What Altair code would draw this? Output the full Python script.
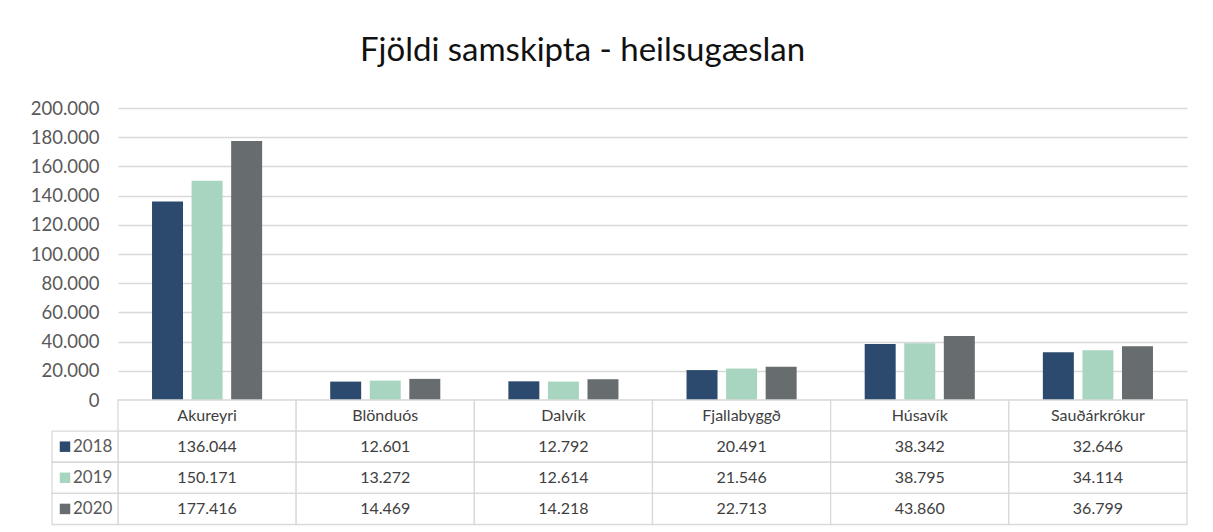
import altair as alt
import pandas as pd

categories = ["Akureyri", "Blönduós", "Dalvík", "Fjallabyggð", "Húsavík", "Sauðárkrókur"]
years = ["2018", "2019", "2020"]
v2018 = [136044, 12601, 12792, 20491, 38342, 32646]
v2019 = [150171, 13272, 12614, 21546, 38795, 34114]
v2020 = [177416, 14469, 14218, 22713, 43860, 36799]
colors = ["#2B4A6E", "#A8D5BF", "#676C6F"]
title_text = "Fjöldi samskipta - heilsugæslan"

series = {"2018": v2018, "2019": v2019, "2020": v2020}


def fmt(v):
    return f"{v:,}".replace(",", ".")


bar_rows = []
for y in years:
    for c, v in zip(categories, series[y]):
        bar_rows.append({"cat": c, "year": y, "value": v})
bars_df = pd.DataFrame(bar_rows)

cell_rows = []
for c in categories:
    cell_rows.append({"cat": c, "row": "h", "label": c})
for y in years:
    for c, v in zip(categories, series[y]):
        cell_rows.append({"cat": c, "row": y, "label": fmt(v)})
cells_df = pd.DataFrame(cell_rows)

legend_df = pd.DataFrame({"col": ["leg"] * 3, "row": years, "year": years})

W = 1069
PLOT_H = 292
TABLE_H = 124.5
H = PLOT_H + TABLE_H
FONT = "Lato"
GRID = "#D9D9D9"

x_scale = alt.Scale(domain=categories, paddingInner=0, paddingOuter=0)
row_scale = alt.Scale(domain=["h"] + years, range=[PLOT_H, H], paddingInner=0, paddingOuter=0)
color_scale = alt.Scale(domain=years, range=colors)

bars = alt.Chart(bars_df).mark_bar().encode(
    x=alt.X("cat:N", scale=x_scale, axis=None, sort=categories),
    xOffset=alt.XOffset("year:N", scale=alt.Scale(domain=years, paddingInner=0.217, paddingOuter=0.86)),
    y=alt.Y(
        "value:Q",
        scale=alt.Scale(domain=[0, 200000], range=[PLOT_H, 0], nice=False),
        axis=alt.Axis(
            values=list(range(0, 200001, 20000)),
            labelExpr="replace(format(datum.value, ','), /,/g, '.')",
            grid=True,
            gridColor=GRID,
            gridWidth=1.3,
            domain=False,
            ticks=False,
            labelPadding=19,
            labelFont=FONT,
            labelFontSize=18.5,
            labelColor="#595959",
            title=None,
        ),
    ),
    color=alt.Color("year:N", scale=color_scale, legend=None),
)

cells = alt.Chart(cells_df).mark_rect(fill="white", stroke=GRID, strokeWidth=1.3).encode(
    x=alt.X("cat:N", scale=x_scale, axis=None, sort=categories),
    y=alt.Y("row:N", scale=row_scale, axis=None),
)

cell_text = alt.Chart(cells_df).mark_text(font=FONT, fontSize=16, color="#404040").encode(
    x=alt.X("cat:N", scale=x_scale, axis=None, sort=categories),
    y=alt.Y("row:N", scale=row_scale, axis=None),
    text="label:N",
)

leg_scale = alt.Scale(domain=["leg"], range=[-66, 0], paddingInner=0, paddingOuter=0)

leg_cells = alt.Chart(legend_df).mark_rect(fill="white", stroke=GRID, strokeWidth=1.3).encode(
    x=alt.X("col:N", scale=leg_scale, axis=None),
    y=alt.Y("row:N", scale=row_scale, axis=None),
)

leg_sq = alt.Chart(legend_df).mark_square(size=110, opacity=1, xOffset=-20).encode(
    x=alt.X("col:N", scale=leg_scale, axis=None),
    y=alt.Y("row:N", scale=row_scale, axis=None),
    color=alt.Color("year:N", scale=color_scale, legend=None),
)

leg_text = alt.Chart(legend_df).mark_text(
    font=FONT, fontSize=17, color="#595959", align="left", dx=-12
).encode(
    x=alt.X("col:N", scale=leg_scale, axis=None),
    y=alt.Y("row:N", scale=row_scale, axis=None),
    text="year:N",
)

chart = (
    alt.layer(bars, cells, cell_text, leg_cells, leg_sq, leg_text)
    .resolve_scale(x="independent", y="independent", color="shared")
    .properties(
        width=W,
        height=H,
        autosize=alt.AutoSizeParams(type="none"),
        padding={"left": 110, "top": 100, "right": 10, "bottom": 5},
        title=alt.Title(
            title_text,
            font=FONT,
            fontSize=33,
            fontWeight="normal",
            color="#111111",
            anchor="middle",
            frame="group",
            dx=-70,
            offset=31,
        ),
    )
    .configure_view(stroke=None)
)

chart.save("out.html", embed_options={"renderer": "svg", "actions": False})
